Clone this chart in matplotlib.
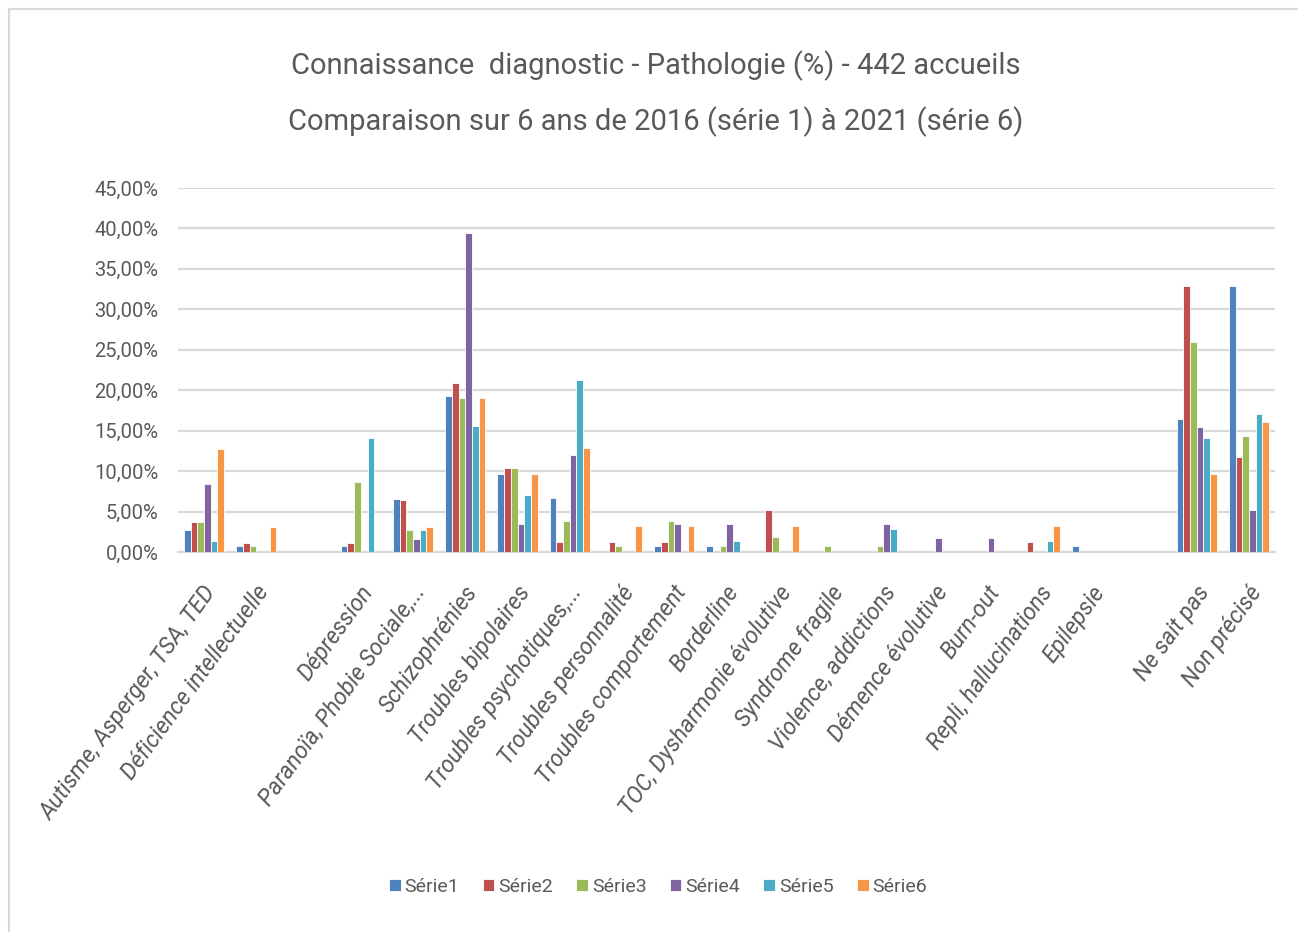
import matplotlib
matplotlib.use("Agg")
import matplotlib.pyplot as plt
import matplotlib.transforms as mtransforms
from matplotlib.lines import Line2D
from matplotlib.ticker import FuncFormatter
import numpy as np

plt.rcParams['font.family'] = ['Roboto', 'DejaVu Sans']

categories = ["Autisme, Asperger, TSA, TED", "Déficience intellectuelle", "",
              "Dépression", "Paranoïa, Phobie Sociale,...", "Schizophrénies",
              "Troubles bipolaires", "Troubles psychotiques,...", "Troubles personnalité",
              "Troubles comportement", "Borderline", "TOC, Dysharmonie évolutive",
              "Syndrome fragile", "Violence, addictions", "Démence évolutive",
              "Burn-out", "Repli, hallucinations", "Epilepsie", "",
              "Ne sait pas", "Non précisé"]

serie1 = [2.7, 0.74, 0, 0.74, 6.6, 19.3, 9.6, 6.7, 0, 0.8, 0.8, 0, 0, 0, 0, 0, 0, 0.8, 0, 16.5, 32.9]
serie2 = [3.7, 1.15, 0, 1.15, 6.4, 20.9, 10.4, 1.2, 1.2, 1.2, 0, 5.2, 0, 0, 0, 0, 1.25, 0, 0, 32.9, 11.7]
serie3 = [3.7, 0.74, 0, 8.6, 2.7, 19.1, 10.4, 3.8, 0.8, 3.8, 0.8, 1.8, 0.8, 0.8, 0, 0, 0, 0, 0, 25.9, 14.3]
serie4 = [8.4, 0, 0, 0, 1.6, 39.4, 3.4, 12.0, 0, 3.4, 3.4, 0, 0, 3.4, 1.7, 1.7, 0, 0, 0, 15.5, 5.2]
serie5 = [1.35, 0, 0, 14.1, 2.7, 15.6, 7.1, 21.3, 0, 0, 1.4, 0, 0, 2.8, 0, 0, 1.4, 0, 0, 14.1, 17.0]
serie6 = [12.7, 3.1, 0, 0, 3.1, 19.1, 9.6, 12.8, 3.2, 3.2, 0, 3.2, 0, 0, 0, 0, 3.2, 0, 0, 9.7, 16.1]

series = [serie1, serie2, serie3, serie4, serie5, serie6]
names = ["Série1", "Série2", "Série3", "Série4", "Série5", "Série6"]
colors = ["#4F81BD", "#C0504D", "#9BBB59", "#8064A2", "#4BACC6", "#F79646"]

grey = "#595959"

fig = plt.figure(figsize=(12.98, 9.32), dpi=100)
ax = fig.add_axes([178/1298, 1-552/932, (1275-178)/1298, (552-188)/932])

x = np.arange(len(categories))
w = 0.128
for i, (vals, name, col) in enumerate(zip(series, names, colors)):
    ax.bar(x + (i - 2.5) * w, vals, width=w, color=col, edgecolor="white",
           linewidth=0.6, label=name, zorder=3)

ax.set_xlim(-0.5, len(categories) - 0.5)
ax.set_ylim(0, 45)
ax.set_yticks(np.arange(0, 46, 5))
ax.yaxis.set_major_formatter(FuncFormatter(lambda v, p: "{:.2f}%".format(v).replace(".", ",")))
ax.grid(axis="y", color="#d9d9d9", linewidth=1.6, zorder=0)
for s in ["top", "right", "left"]:
    ax.spines[s].set_visible(False)
ax.spines["bottom"].set_color("#d9d9d9")
ax.spines["bottom"].set_linewidth(1.6)
ax.tick_params(axis="both", length=0, colors=grey)
ax.tick_params(axis="y", labelsize=14.5, pad=14)

ax.set_xticks(x)
ax.set_xticklabels(categories, rotation=54, ha="right", va="center",
                   rotation_mode="anchor", fontsize=16.5, style="italic", color=grey)
ax.tick_params(axis="x", pad=26)
offset = mtransforms.ScaledTranslation(8/100, 0, fig.dpi_scale_trans)
for lbl in ax.get_xticklabels():
    lbl.set_transform(lbl.get_transform() + offset)

fig.text(0.505, 1-66/932, "Connaissance  diagnostic - Pathologie (%) - 442 accueils",
         ha="center", va="center", fontsize=21, color=grey)
fig.text(0.505, 1-122/932, "Comparaison sur 6 ans de 2016 (série 1) à 2021 (série 6)",
         ha="center", va="center", fontsize=21, color=grey)

fig.legend(loc="center", bbox_to_anchor=(0.507, 1-887/932), ncol=6, frameon=False,
           fontsize=14, handlelength=0.6, handleheight=0.6, handletextpad=0.2,
           columnspacing=1.2, labelcolor=grey)

# cadre gris en haut et a gauche
fig.add_artist(Line2D([9/1298, 9/1298], [0, 1-9/932], color="#d9d9d9", linewidth=1.5))
fig.add_artist(Line2D([9/1298, 1], [1-9/932, 1-9/932], color="#d9d9d9", linewidth=1.5))

fig.savefig("out.png", dpi=100, facecolor="white")
